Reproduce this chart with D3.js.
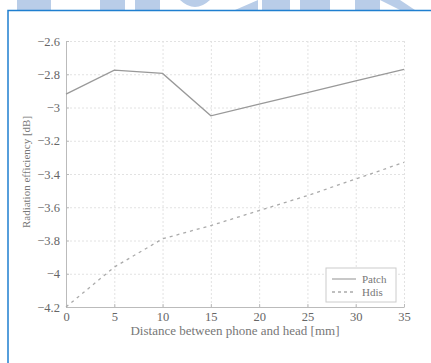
<!DOCTYPE html>
<meta charset="utf-8">
<script src="https://d3js.org/d3.v7.min.js"></script>
<style>
body { margin: 0; background: #fff; }
.axis text { font-family: "Liberation Serif", serif; font-size: 12.5px; fill: #666; }
.axis path, .axis line { stroke: #bbb; }
.grid line { stroke: #e2e2e2; stroke-dasharray: 2px 2px; }
.grid path { display: none; }
.lbl { font-family: "Liberation Serif", serif; font-size: 11px; fill: #777; }
</style>
<body></body>
<script>
var distance = [0, 5, 10, 15, 20, 25, 30, 35];
var patch = [-2.92, -2.775, -2.795, -3.05, -2.98, -2.91, -2.84, -2.77];
var hdis = [-4.2, -3.96, -3.79, -3.71, -3.62, -3.53, -3.43, -3.33];
var xTicks = [0, 5, 10, 15, 20, 25, 30, 35];
var yTicks = [-2.6, -2.8, -3, -3.2, -3.4, -3.6, -3.8, -4, -4.2];
var seriesNames = ["Patch", "Hdis"];

var svg = d3.select("body").append("svg").attr("width", 431).attr("height", 363);

// light blue banner shapes at the top
var banner = svg.append("g").attr("fill", "#b9cde8");
[[17, 34], [100, 25], [135, 25], [262, 28], [300, 30], [355, 25]].forEach(function(r) {
  banner.append("rect").attr("x", r[0]).attr("y", 0).attr("width", r[1]).attr("height", 10);
});
banner.append("path").attr("d", "M180,0 Q195,14 210,0 Z");
banner.append("path").attr("d", "M235,10 L258,0 L258,10 Z");
banner.append("path").attr("d", "M380,0 L400,10 L415,10 L400,0 Z");

// blue frame
svg.append("path").attr("d", "M8,363 L8,10.5 L431,10.5")
  .attr("fill", "none").attr("stroke", "#1f7fd0").attr("stroke-width", 1.5);

var x = d3.scaleLinear().domain([0, 35]).range([66, 404]);
var y = d3.scaleLinear().domain([-4.2, -2.6]).range([307, 41]);

svg.append("g").attr("class", "grid")
  .attr("transform", "translate(0,307)")
  .call(d3.axisBottom(x).tickValues(xTicks).tickSize(-266).tickFormat(""));
svg.append("g").attr("class", "grid")
  .attr("transform", "translate(66,0)")
  .call(d3.axisLeft(y).tickValues(yTicks).tickSize(-338).tickFormat(""));

var fmt = function(d) { return d3.format("")(d).replace("-", "\u2212"); };

svg.append("g").attr("class", "axis")
  .attr("transform", "translate(0,307)")
  .call(d3.axisBottom(x).tickValues(xTicks).tickSizeInner(-3).tickSizeOuter(0).tickPadding(5).tickFormat(fmt));
svg.append("g").attr("class", "axis")
  .attr("transform", "translate(66,0)")
  .call(d3.axisLeft(y).tickValues(yTicks).tickSizeInner(-3).tickSizeOuter(0).tickPadding(6).tickFormat(fmt));

var line = d3.line().x(function(d) { return x(d[0]); }).y(function(d) { return y(d[1]); });

svg.append("path").datum(d3.zip(distance, patch)).attr("d", line)
  .attr("fill", "none").attr("stroke", "#999").attr("stroke-width", 1.3);
svg.append("path").datum(d3.zip(distance, hdis)).attr("d", line)
  .attr("fill", "none").attr("stroke", "#aaa").attr("stroke-width", 1.3).attr("stroke-dasharray", "3,4");

svg.append("text").attr("class", "lbl").attr("x", 235).attr("y", 335)
  .style("font-size", "13px")
  .attr("text-anchor", "middle").text("Distance between phone and head [mm]");
svg.append("text").attr("class", "lbl").attr("transform", "translate(30,172) rotate(-90)")
  .attr("text-anchor", "middle").text("Radiation efficiency [dB]");

// legend
var lg = svg.append("g").attr("transform", "translate(326,268)");
lg.append("rect").attr("width", 70).attr("height", 34).attr("fill", "#fff").attr("stroke", "#ccc");
seriesNames.forEach(function(n, i) {
  lg.append("line").attr("x1", 6).attr("x2", 30).attr("y1", 11 + i * 13).attr("y2", 11 + i * 13)
    .attr("stroke", "#aaa").attr("stroke-width", 1.3).attr("stroke-dasharray", i ? "3,3" : null);
  lg.append("text").attr("class", "lbl").attr("x", 36).attr("y", 15 + i * 13).text(n);
});
</script>
